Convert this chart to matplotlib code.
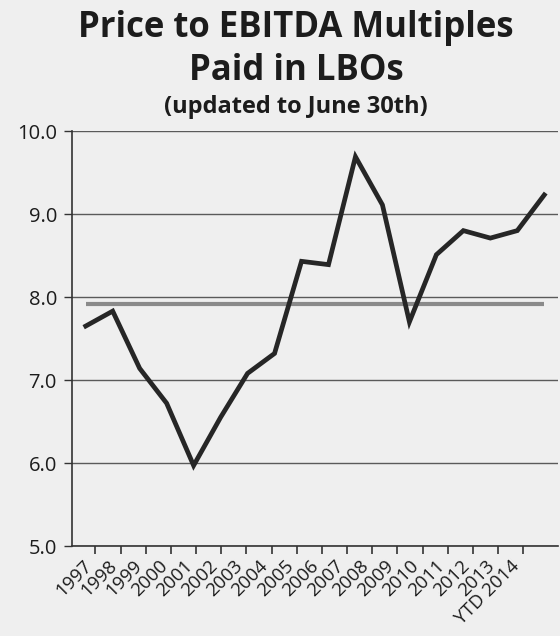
import matplotlib
matplotlib.use('Agg')
import matplotlib.pyplot as plt
from matplotlib.ticker import FixedLocator, NullFormatter

# Data
years = ['1997', '1998', '1999', '2000', '2001', '2002', '2003', '2004', '2005',
         '2006', '2007', '2008', '2009', '2010', '2011', '2012', '2013', 'YTD 2014']
multiples = [7.65, 7.83, 7.14, 6.72, 5.97, 6.55, 7.08, 7.32, 8.43,
             8.39, 9.69, 9.11, 7.70, 8.51, 8.80, 8.71, 8.80, 9.23]
average = 7.92
y_ticks = [5.0, 6.0, 7.0, 8.0, 9.0, 10.0]

plt.rcParams['font.family'] = ['Open Sans', 'DejaVu Sans']

bg = '#efefef'
ink = '#1c1c1c'

fig = plt.figure(figsize=(5.6, 6.36), dpi=100, facecolor=bg)
ax = fig.add_axes([0.129, 0.1415, 0.867, 0.6525], facecolor=bg)

x = list(range(len(years)))
ax.plot(x, [average] * len(x), color='#8a8a8a', lw=3.0, solid_capstyle='butt', zorder=2)
ax.plot(x, multiples, color='#262626', lw=3.4, solid_joinstyle='miter', zorder=3)

ax.set_xlim(-0.5, len(years) - 0.5)
ax.set_ylim(5.0, 10.0)

ax.set_yticks(y_ticks)
ax.set_yticklabels([f'{v:.1f}' for v in y_ticks], fontsize=14.5, color=ink)
ax.yaxis.grid(True, color='#5a5a5a', lw=1.0)
ax.set_axisbelow(True)

# the tick row in the source picture is a bit narrower than the plot itself
tick_scale = 0.933
label_pos = [-0.107 + tick_scale * i for i in x]
tick_pos = [-0.574 + tick_scale * k for k in range(len(years) + 1)]
ax.xaxis.set_major_locator(FixedLocator(label_pos))
ax.set_xticklabels(years, rotation=45, ha='right', va='top',
                   rotation_mode='anchor', fontsize=13.5, color=ink)
ax.xaxis.set_minor_locator(FixedLocator(tick_pos))
ax.xaxis.set_minor_formatter(NullFormatter())
ax.tick_params(axis='x', which='major', length=0, pad=8)
ax.tick_params(axis='x', which='minor', length=6, width=1.2, color='#333333')
ax.tick_params(axis='y', length=6, width=1.0, color='#333333', pad=5)

for side in ['top', 'right']:
    ax.spines[side].set_visible(False)
for side in ['left', 'bottom']:
    ax.spines[side].set_color('#333333')
    ax.spines[side].set_linewidth(1.2)

fig.text(0.529, 0.956, 'Price to EBITDA Multiples', ha='center', va='center',
         fontsize=25, fontweight='bold', color=ink)
fig.text(0.529, 0.889, 'Paid in LBOs', ha='center', va='center',
         fontsize=25, fontweight='bold', color=ink)
fig.text(0.529, 0.831, '(updated to June 30th)', ha='center', va='center',
         fontsize=17, fontweight='bold', color=ink)

fig.savefig('out.png', dpi=100, facecolor=bg)
